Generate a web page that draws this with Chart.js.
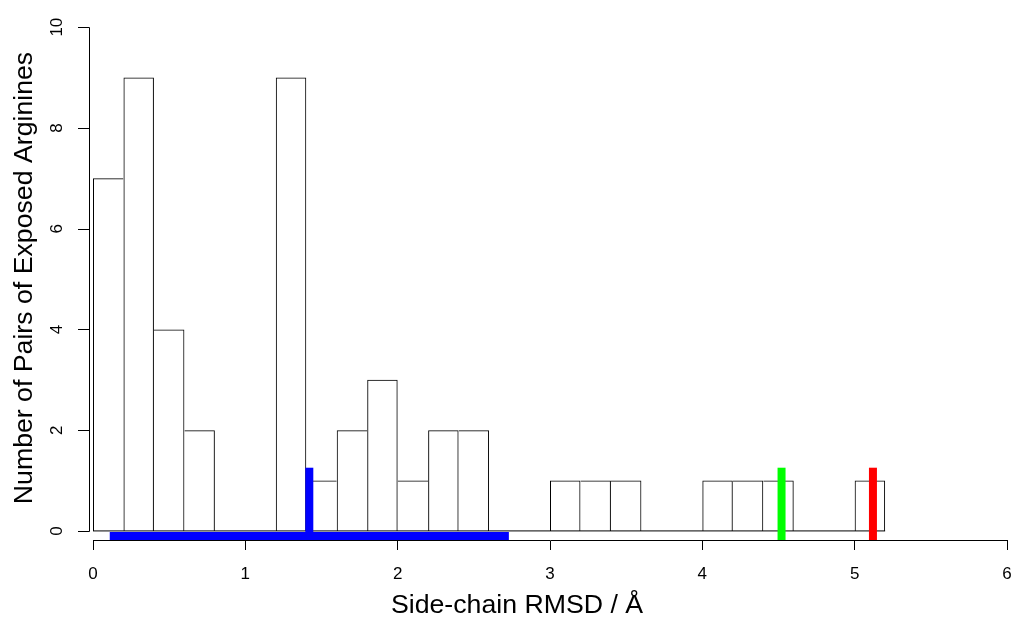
<!DOCTYPE html>
<html>
<head>
<meta charset="utf-8">
<script src="https://cdn.jsdelivr.net/npm/chart.js@4.4.1/dist/chart.umd.min.js"></script>
<style>
    html, body { margin: 0; padding: 0; background: #fff; }
    #grafico { display: block; }
</style>
</head>
<body>
<canvas id="grafico" width="1013" height="617"></canvas>
<script>
// histogram breaks and counts
const binEdges = [0.0, 0.2, 0.4, 0.6, 0.8, 1.0, 1.2, 1.4, 1.6, 1.8, 2.0, 2.2, 2.4, 2.6,
                  2.8, 3.0, 3.2, 3.4, 3.6, 3.8, 4.0, 4.2, 4.4, 4.6, 4.8, 5.0, 5.2];
const counts = [7, 9, 4, 2, 0, 0, 9, 1, 2, 3, 1, 2, 2, 0, 0, 1, 1, 1, 0, 0, 1, 1, 1, 0, 0, 1];

// marker segments drawn over the histogram
const blueRangeX = [0.11, 2.73];
const blueRangeY = -0.1;
const blueMarkX = 1.42;
const greenMarkX = 4.52;
const redMarkX = 5.12;
const markY = [-0.18, 1.255];

const xTicks = [0, 1, 2, 3, 4, 5, 6];
const yTicks = [0, 2, 4, 6, 8, 10];

const tituloX = 'Side-chain RMSD / Å';
const tituloY = 'Number of Pairs of Exposed Arginines';

const fonte = '"Liberation Sans", Arial, Helvetica, sans-serif';

const barras = counts.map((c, i) => ({ x: (binEdges[i] + binEdges[i + 1]) / 2, y: c }));

// one 1px line per shared edge, like R's hist
function bordaBarra(ctx) {
    const i = ctx.dataIndex;
    const h = counts[i];
    const prev = i > 0 ? counts[i - 1] : 0;
    const next = i < counts.length - 1 ? counts[i + 1] : 0;
    return { top: 1, bottom: 0, left: h > prev ? 1 : 0, right: h >= next ? 1 : 0 };
}

function segmento(pontos, cor) {
    return {
        type: 'line',
        data: pontos,
        borderColor: cor,
        borderWidth: 8,
        borderCapStyle: 'butt',
        pointRadius: 0,
        fill: false,
        order: 0
    };
}

// y axis line sits a little left of the plot, as in R
const eixosR = {
    id: 'eixosR',
    afterDraw(chart) {
        const ctx = chart.ctx;
        const y = chart.scales.y;
        const xLinha = 89.5;
        ctx.save();
        ctx.strokeStyle = '#000';
        ctx.lineWidth = 1;
        ctx.beginPath();
        ctx.moveTo(xLinha, Math.round(y.getPixelForValue(yTicks[0])) + 0.5);
        ctx.lineTo(xLinha, Math.round(y.getPixelForValue(yTicks[yTicks.length - 1])) + 0.5);
        yTicks.forEach(v => {
            const py = Math.round(y.getPixelForValue(v)) + 0.5;
            ctx.moveTo(xLinha, py);
            ctx.lineTo(xLinha - 11.5, py);
        });
        ctx.stroke();

        ctx.fillStyle = '#000';
        ctx.font = '26.7px ' + fonte;
        ctx.textAlign = 'center';
        ctx.textBaseline = 'alphabetic';
        ctx.fillText(tituloX, 517, 613);
        ctx.translate(32, 278);
        ctx.rotate(-Math.PI / 2);
        ctx.fillText(tituloY, 0, 0);
        ctx.restore();
    }
};

const ctxGrafico = document.getElementById('grafico').getContext('2d');
new Chart(ctxGrafico, {
    type: 'bar',
    data: {
        datasets: [
            segmento([{ x: blueRangeX[0], y: blueRangeY }, { x: blueRangeX[1], y: blueRangeY }], '#0000ff'),
            segmento([{ x: blueMarkX, y: markY[0] }, { x: blueMarkX, y: markY[1] }], '#0000ff'),
            segmento([{ x: greenMarkX, y: markY[0] }, { x: greenMarkX, y: markY[1] }], '#00ff00'),
            segmento([{ x: redMarkX, y: markY[0] }, { x: redMarkX, y: markY[1] }], '#ff0000'),
            {
                type: 'line',
                data: [{ x: binEdges[0], y: 0 }, { x: binEdges[binEdges.length - 1], y: 0 }],
                borderColor: '#000',
                borderWidth: 1,
                pointRadius: 0,
                order: 1
            },
            {
                type: 'bar',
                data: barras,
                backgroundColor: 'rgba(255,255,255,0)',
                borderColor: '#000',
                borderWidth: bordaBarra,
                borderSkipped: false,
                inflateAmount: 0,
                barPercentage: 1.0,
                categoryPercentage: 1.0,
                grouped: false,
                order: 2
            }
        ]
    },
    options: {
        responsive: false,
        animation: false,
        devicePixelRatio: 1,
        layout: { padding: { top: 7, right: 6, left: 0, bottom: 0 } },
        plugins: {
            legend: { display: false },
            tooltip: { enabled: false }
        },
        scales: {
            x: {
                type: 'linear',
                offset: false,
                min: 0,
                max: 6,
                afterBuildTicks: s => { s.ticks = xTicks.map(v => ({ value: v })); },
                afterFit: s => { s.height = 77; s.paddingLeft = 0; s.paddingRight = 0; },
                grid: { display: true, offset: false, drawOnChartArea: false, drawTicks: true, tickLength: 10, color: '#000', lineWidth: 1 },
                border: { display: true, color: '#000', width: 1 },
                ticks: { color: '#000', font: { family: fonte, size: 17 }, padding: 14, maxRotation: 0 }
            },
            y: {
                type: 'linear',
                min: -0.18,
                max: 10.4,
                afterBuildTicks: s => { s.ticks = yTicks.map(v => ({ value: v })); },
                afterFit: s => { s.width = 93; s.paddingTop = 0; s.paddingBottom = 0; },
                grid: { display: false },
                border: { display: false },
                ticks: { color: '#000', font: { family: fonte, size: 17 }, padding: 18, minRotation: 90, maxRotation: 90, crossAlign: 'center' }
            }
        }
    },
    plugins: [eixosR]
});
</script>
</body>
</html>
